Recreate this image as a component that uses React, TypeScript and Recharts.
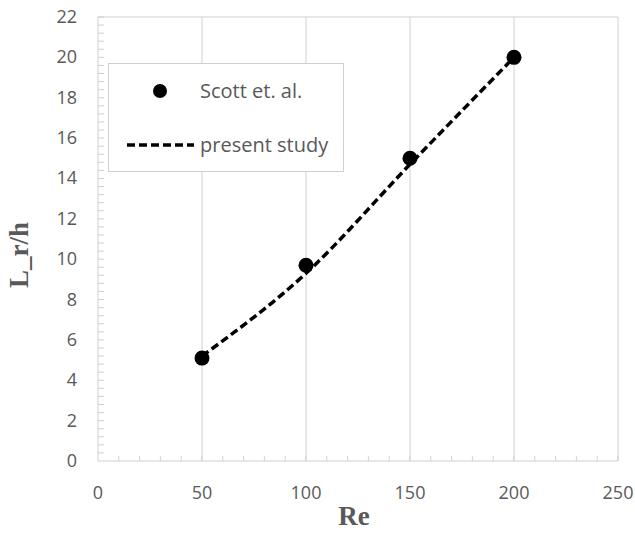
// Re vs L_r/h: Scott et. al. points and present study curve
import {
  ComposedChart,
  Line,
  Scatter,
  XAxis,
  YAxis,
  ReferenceLine,
} from "recharts";

const scottRe = [50, 100, 150, 200];
const scottLr = [5.1, 9.7, 15.0, 20.0];

const studyRe = [50, 100, 150, 200];
const studyLr = [5.2, 9.3, 14.7, 20.0];

const xMajorTicks = [0, 50, 100, 150, 200, 250];
const yMajorTicks = [0, 2, 4, 6, 8, 10, 12, 14, 16, 18, 20, 22];

const scottData = scottRe.map((x, i) => ({ x, y: scottLr[i] }));
const studyData = studyRe.map((x, i) => ({ x, y: studyLr[i] }));

// minor ticks: every 10 on x, every 0.4 on y
const xMinorTicks = Array.from({ length: 26 }, (_, i) => i * 10);
const yMinorTicks = Array.from({ length: 56 }, (_, i) => Math.round(i * 4) / 10);

const axisColor = "#d0d0d0";
const textColor = "#595959";
const tickFont = "'Open Sans', sans-serif";
const titleFont = "'Liberation Serif', 'Times New Roman', serif";

const XTick = (props: any) => {
  const { x, y, payload } = props;
  const v = payload.value;
  return (
    <g>
      {v !== 0 && <line x1={x} x2={x} y1={y} y2={y - 5} stroke={axisColor} />}
      {xMajorTicks.includes(v) && (
        <text x={x} y={y + 38} textAnchor="middle" fill={textColor} fontSize={18} fontFamily={tickFont}>
          {v}
        </text>
      )}
    </g>
  );
};

const YTick = (props: any) => {
  const { x, y, payload } = props;
  const v = payload.value;
  const major = yMajorTicks.some((t) => Math.abs(t - v) < 1e-6);
  return (
    <g>
      {v !== 0 && <line x1={x} x2={x + 6} y1={y} y2={y} stroke={axisColor} />}
      {major && (
        <text x={x - 21} y={y + 6} textAnchor="end" fill={textColor} fontSize={18} fontFamily={tickFont}>
          {Math.round(v)}
        </text>
      )}
    </g>
  );
};

// legend box drawn over the plot, like the Excel one
const LegendBox = () => (
  <svg
    width={236}
    height={109}
    style={{ position: "absolute", left: 108, top: 63, display: "block" }}
  >
    <rect x={0.5} y={0.5} width={235} height={108} fill="#fff" stroke={axisColor} />
    <circle cx={52} cy={28} r={7} fill="#000" />
    <text x={92} y={35} fill={textColor} fontSize={20} fontFamily={tickFont}>
      Scott et. al.
    </text>
    <line x1={19} x2={86} y1={82} y2={82} stroke="#000" strokeWidth={3.5} strokeDasharray="8 4" />
    <text x={92} y={89} fill={textColor} fontSize={20} fontFamily={tickFont}>
      present study
    </text>
  </svg>
);

export default function App() {
  return (
    <div style={{ position: "absolute", left: 0, top: 0, width: 635, height: 534, background: "#fff" }}>
      <ComposedChart
        width={635}
        height={534}
        margin={{ top: 17, right: 17, left: 0, bottom: 0 }}
      >
        <XAxis
          type="number"
          dataKey="x"
          domain={[0, 250]}
          ticks={xMinorTicks}
          interval={0}
          height={73}
          tickSize={0}
          tickMargin={0}
          tickLine={false}
          stroke={axisColor}
          tick={<XTick />}
          label={{
            content: () => (
              <text x={354} y={525} textAnchor="middle" fill={textColor} fontSize={27} fontWeight="bold" fontFamily={titleFont}>
                Re
              </text>
            ),
          }}
        />
        <YAxis
          type="number"
          domain={[0, 22]}
          ticks={yMinorTicks}
          interval={0}
          width={98}
          tickSize={0}
          tickMargin={0}
          tickLine={false}
          stroke={axisColor}
          tick={<YTick />}
          label={{
            content: () => (
              <text
                x={28}
                y={255}
                transform="rotate(-90 28 255)"
                textAnchor="middle"
                fill={textColor}
                fontSize={27}
                fontWeight="bold"
                fontFamily={titleFont}
              >
                L_r/h
              </text>
            ),
          }}
        />
        {xMajorTicks.slice(1).map((v) => (
          <ReferenceLine key={v} x={v} stroke={axisColor} />
        ))}
        <ReferenceLine y={22} stroke={axisColor} />
        <Line
          data={studyData}
          dataKey="y"
          type="monotone"
          stroke="#000"
          strokeWidth={3.5}
          strokeDasharray="8 4"
          dot={false}
          activeDot={false}
          isAnimationActive={false}
        />
        <Scatter
          data={scottData}
          dataKey="y"
          fill="#000"
          shape={(p: any) => <circle cx={p.cx} cy={p.cy} r={7.5} fill="#000" />}
          isAnimationActive={false}
        />
      </ComposedChart>
      <LegendBox />
    </div>
  );
}
